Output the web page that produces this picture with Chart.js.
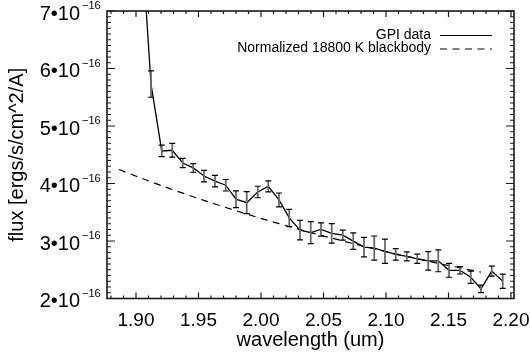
<!DOCTYPE html>
<html><head><meta charset="utf-8">
<script src="https://cdn.jsdelivr.net/npm/chart.js@4/dist/chart.umd.min.js"></script>
<style>html,body{margin:0;padding:0;background:#fff}#wrap{width:530px;height:357px}</style>
</head><body><div id="wrap"><canvas id="c" width="530" height="357"></canvas></div>
<script>
// GPI spectrum (flux in units of 1e-16 ergs/s/cm^2/A)
const wavelength = [1.9034,1.9120,1.9206,1.9290,1.9374,1.9458,1.9544,1.9632,1.9718,1.9800,1.9886,1.9974,2.0058,2.0144,2.0226,2.0312,2.0398,2.0480,2.0566,2.0654,2.0738,2.0824,2.0906,2.0992,2.1078,2.1166,2.1250,2.1338,2.1418,2.1504,2.1592,2.1678,2.1760,2.1846,2.1934];
const flux = [8.60,5.73,4.566,4.578,4.356,4.271,4.130,4.043,3.970,3.727,3.667,3.852,3.950,3.715,3.401,3.189,3.146,3.201,3.132,3.102,2.998,2.894,2.877,2.821,2.769,2.734,2.691,2.655,2.655,2.490,2.490,2.370,2.168,2.477,2.300];
const fluxErr = [0.30,0.23,0.10,0.12,0.08,0.075,0.10,0.10,0.10,0.145,0.19,0.10,0.095,0.12,0.15,0.17,0.19,0.115,0.17,0.087,0.145,0.17,0.21,0.21,0.10,0.078,0.08,0.16,0.19,0.12,0.064,0.107,0.066,0.087,0.125];
// Normalized blackbody
const bbWavelength = [1.8864,1.8949,1.9034,1.9120,1.9206,1.9290,1.9374,1.9458,1.9544,1.9632,1.9718,1.9800,1.9886,1.9974,2.0058,2.0144,2.0226,2.0312,2.0398,2.0480,2.0566,2.0654,2.0738,2.0824,2.0906,2.0992,2.1078,2.1166,2.1250,2.1338,2.1418,2.1504,2.1592,2.1678,2.1760];
const bbFlux = [4.243,4.171,4.100,4.030,3.961,3.896,3.832,3.769,3.706,3.643,3.583,3.526,3.469,3.410,3.356,3.302,3.251,3.199,3.147,3.100,3.050,3.001,2.955,2.908,2.865,2.821,2.777,2.733,2.692,2.650,2.612,2.572,2.533,2.494,2.459];

const seriesLabels = ['GPI data', 'Normalized 18800 K blackbody'];
const xTicks = [1.90,1.95,2.00,2.05,2.10,2.15,2.20];
const xTickLabels = ['1.90','1.95','2.00','2.05','2.10','2.15','2.20'];
const yTicks = [2,3,4,5,6,7];
const yTickLabels = ['2\u202210','3\u202210','4\u202210','5\u202210','6\u202210','7\u202210'];
const yTickExponent = '\u221216';
const xTitle = 'wavelength (um)';
const yTitle = 'flux [ergs/s/cm^2/A]';

const FONT = '"Liberation Sans", Arial, Helvetica, sans-serif';
const Y_LABEL_PAD = 27;

const frame = {
  id: 'frame',
  afterDatasetsDraw(chart) {
    const {ctx, chartArea: a, scales: {x, y}} = chart;
    ctx.save();
    ctx.beginPath();
    ctx.rect(a.left, a.top, a.right - a.left, a.bottom - a.top);
    ctx.clip();
    for (let i = 0; i < wavelength.length; i++) {
      const px = x.getPixelForValue(wavelength[i]);
      const p1 = y.getPixelForValue(flux[i] + fluxErr[i]);
      const p2 = y.getPixelForValue(flux[i] - fluxErr[i]);
      ctx.strokeStyle = '#6a6a6a'; ctx.lineWidth = 1.8;
      ctx.beginPath(); ctx.moveTo(px, p1); ctx.lineTo(px, p2); ctx.stroke();
      ctx.strokeStyle = '#000'; ctx.lineWidth = 1.2;
      ctx.beginPath();
      ctx.moveTo(px - 3, p1); ctx.lineTo(px + 3, p1);
      ctx.moveTo(px - 3, p2); ctx.lineTo(px + 3, p2);
      ctx.stroke();
    }
    ctx.restore();
  },
  afterDraw(chart) {
    const {ctx, chartArea: a, scales: {x, y}} = chart;
    ctx.save();
    ctx.strokeStyle = '#1a1a1a';
    ctx.lineWidth = 1.6;
    ctx.strokeRect(a.left, a.top, a.right - a.left, a.bottom - a.top);
    ctx.lineWidth = 1.2;
    ctx.beginPath();
    for (let k = 188; k <= 220; k++) {
      const v = k / 100;
      const px = x.getPixelForValue(v);
      const L = (k % 5 === 0) ? 6 : 3;
      ctx.moveTo(px, a.bottom); ctx.lineTo(px, a.bottom - L);
      ctx.moveTo(px, a.top); ctx.lineTo(px, a.top + L);
    }
    for (let k = 20; k <= 70; k++) {
      const v = k / 10;
      const py = y.getPixelForValue(v);
      const L = (k % 10 === 0) ? 8 : 4;
      ctx.moveTo(a.left, py); ctx.lineTo(a.left + L, py);
      ctx.moveTo(a.right, py); ctx.lineTo(a.right - L, py);
    }
    ctx.stroke();
    ctx.fillStyle = '#000';
    ctx.font = '11px ' + FONT;
    ctx.textAlign = 'left';
    ctx.textBaseline = 'middle';
    for (const v of yTicks) {
      const py = y.getPixelForValue(v);
      ctx.fillText(yTickExponent, y.right - Y_LABEL_PAD + 2, py - 5);
    }
    ctx.font = '14px ' + FONT;
    ctx.textAlign = 'right';
    const rows = [35, 48.5];
    chart.data.datasets.forEach((ds, i) => {
      ctx.fillText(ds.label, 431, rows[i]);
      ctx.strokeStyle = '#000';
      ctx.lineWidth = 1.2;
      ctx.setLineDash(ds.borderDash || []);
      ctx.beginPath(); ctx.moveTo(440, rows[i] + 0.5); ctx.lineTo(492, rows[i] + 0.5); ctx.stroke();
    });
    ctx.setLineDash([]);
    ctx.restore();
  }
};

new Chart(document.getElementById('c'), {
  type: 'scatter',
  data: {
    datasets: [
      {
        label: seriesLabels[0],
        data: wavelength.map((w, i) => ({x: w, y: flux[i]})),
        showLine: true, borderColor: '#000', borderWidth: 1.3,
        pointRadius: 0, clip: 0, tension: 0
      },
      {
        label: seriesLabels[1],
        data: bbWavelength.map((w, i) => ({x: w, y: bbFlux[i]})),
        showLine: true, borderColor: '#000', borderWidth: 1.2, borderDash: [7, 5.5],
        pointRadius: 0, clip: 0, tension: 0
      }
    ]
  },
  options: {
    responsive: false, animation: false, devicePixelRatio: 1,
    layout: {padding: {top: 11, right: 16, left: 0, bottom: 0}},
    plugins: {legend: {display: false}, tooltip: {enabled: false}},
    scales: {
      x: {
        type: 'linear', min: 1.8768, max: 2.2024,
        grid: {display: false, drawTicks: false}, border: {display: false},
        afterBuildTicks: s => { s.ticks = xTicks.map(v => ({value: v})); },
        afterFit: s => { s.height = 58.5; s.paddingLeft = 0; s.paddingRight = 0; },
        ticks: {
          autoSkip: false, maxRotation: 0, padding: 11, color: '#000',
          font: {family: FONT, size: 19},
          callback: (v) => { const i = xTicks.findIndex(t => Math.abs(t - v) < 1e-6); return i >= 0 ? xTickLabels[i] : ''; }
        },
        title: {display: true, text: xTitle, color: '#000', font: {family: FONT, size: 20}, padding: {top: 0, bottom: 5}}
      },
      y: {
        type: 'linear', min: 2, max: 7,
        grid: {display: false, drawTicks: false}, border: {display: false},
        afterBuildTicks: s => { s.ticks = yTicks.map(v => ({value: v})); },
        afterFit: s => { s.width = 107; s.paddingTop = 0; s.paddingBottom = 0; },
        ticks: {
          autoSkip: false, padding: Y_LABEL_PAD, color: '#000', labelOffset: 3,
          font: {family: FONT, size: 20},
          callback: (v) => { const i = yTicks.findIndex(t => Math.abs(t - v) < 1e-6); return i >= 0 ? yTickLabels[i] : ''; }
        },
        title: {display: true, text: yTitle, color: '#000', font: {family: FONT, size: 20}, padding: {top: 5, bottom: 0}}
      }
    }
  },
  plugins: [frame]
});
</script></body></html>
